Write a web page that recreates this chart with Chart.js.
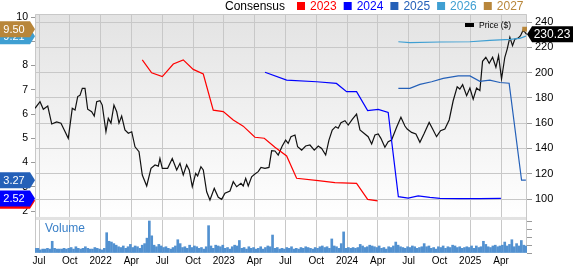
<!DOCTYPE html>
<html>
<head>
<meta charset="utf-8">
<script src="https://cdn.jsdelivr.net/npm/chart.js@4.4.1/dist/chart.umd.min.js"></script>
<style>
html, body { margin: 0; padding: 0; background: #fff; }
#wrap { width: 573px; height: 266px; }
</style>
</head>
<body>
<div id="wrap"><canvas id="chart" width="573" height="266"></canvas></div>
<script>
// x values are months counted from Jan 2021 (Jul 2021 = 6)
const quarterTicks  = [6, 9, 12, 15, 18, 21, 24, 27, 30, 33, 36, 39, 42, 45, 48, 51];
const quarterLabels = ['Jul','Oct','2022','Apr','Jul','Oct','2023','Apr','Jul','Oct','2024','Apr','Jul','Oct','2025','Apr'];

const epsTicks    = [2, 3, 4, 5, 6, 7, 8, 9, 10];
const priceTicks  = [100, 120, 140, 160, 180, 200, 220, 240];
const volumeTicks = [0, 10, 20, 30, 40];

const priceMonths = [5.61,6.10,6.42,6.85,7.24,7.72,8.14,8.46,8.85,9.24,9.51,9.77,9.99,10.22,10.48,10.74,11.13,11.38,11.62,11.94,
  12.16,12.52,12.75,13.01,13.30,13.57,13.79,14.05,14.37,14.70,15.03,15.35,15.74,16.06,16.49,16.91,17.30,17.62,17.78,18.01,
  18.53,18.98,19.41,19.73,20.05,20.38,20.63,20.93,21.26,21.45,21.77,22.00,22.33,22.65,23.07,23.46,23.79,24.11,24.60,24.92,
  25.25,25.67,25.89,26.13,26.38,26.71,27.03,27.35,27.62,28.01,28.40,28.66,28.98,29.30,29.69,30.02,30.27,30.54,30.93,31.19,
  31.58,31.97,32.39,32.81,33.20,33.53,33.92,34.24,34.56,34.89,35.14,35.41,35.80,36.12,36.51,36.93,37.26,37.74,38.06,38.40,
  38.72,39.04,39.30,39.69,40.01,40.34,40.83,41.25,41.64,41.86,42.29,42.71,43.10,43.49,44.00,44.34,44.72,45.11,45.53,45.95,
  46.34,46.73,46.99,47.26,47.65,47.97,48.29,48.62,48.94,49.20,49.52,49.85,50.18,50.50,50.76,51.05,51.37,51.60,51.86,52.12,
  52.35,52.67,52.90,53.16,53.49];
const priceValues = [171.7,177,171,173.5,159.3,161,160,154.6,148,171.7,170.4,181,182,187.5,187.5,171,169,165.6,177,177.7,
  174.3,153.2,163.8,160,174.3,169,160,165.6,154.6,152,153.2,141.3,137.4,119,110.3,124.3,126.9,126,132,124.3,
  124.3,132,122.9,128.2,119,127,123,109.7,120.3,118.2,125.5,123,105.7,99.2,108.4,101.3,99.7,104.5,106.3,113.7,
  109.7,112.4,110.3,116.3,110.3,117.6,119.7,121.6,125,124.3,125,138.2,138,134.8,141.9,146.6,144,149.3,150.6,141.3,
  138.7,141.9,142.7,138.7,141.9,140,134.8,146.6,154.6,157.2,156,160.4,161.9,158.5,163,167.2,154.6,151.4,149.3,143.5,
  150.6,151.4,148,140.9,145.3,146.6,156.7,164.6,157.7,155.3,152.7,151.4,144.8,151.4,160.6,155.3,149.3,154,155.3,162.5,
  177.7,188.8,187,190.4,181.7,187.8,179,187.8,185.7,208.9,212.1,207.3,212.1,204.2,213.3,195,212.1,218.6,227.9,221.3,
  226.5,227.3,229.2,233.7,230.23];

const eps2023Months = [16.06,16.97,18.01,19.08,20.05,21.02,22.00,22.97,23.95,24.92,25.89,27.03,27.94,28.98,30.12,31.09,33.20,34.82,36.93,38.01,38.98];
const eps2023Values = [8.23,7.70,7.54,8.06,8.23,7.84,7.65,6.16,6.10,5.75,5.50,5.04,5.00,4.63,4.27,3.35,3.25,3.17,3.14,2.48,2.42];

const eps2024Months = [28.01,30.12,33.04,34.97,35.96,36.93,38.01,39.04,40.01,41.00,41.96,42.93,44.07,45.05,46.99,48.94,50.99];
const eps2024Values = [7.72,7.40,7.33,7.26,6.92,6.92,6.14,6.19,6.06,2.59,2.53,2.62,2.56,2.52,2.51,2.51,2.52];

const eps2025Months = [41.00,42.12,43.10,44.24,45.37,46.83,47.97,48.94,49.91,50.89,51.79,53.00,53.42];
const eps2025Values = [7.06,7.06,7.22,7.33,7.47,7.57,7.57,7.35,7.40,7.30,7.27,3.27,3.27];

const eps2026Months = [41.00,42.12,45.05,47.97,49.91,51.86,52.83,53.42];
const eps2026Values = [8.98,8.94,8.97,8.98,9.04,9.08,9.12,9.21];

const eps2027Months = [53.30];
const eps2027Values = [9.50];

// weekly volume in thousands, first week starts mid-June 2021
const volumeStart = 5.67;
const volumeK = [
  6,6,4,5,5,6,5,15,6,5,5,5,6,
  5,6,7,5,8,6,5,6,8,6,5,5,7,
  6,5,4,6,26,15,14,12,10,8,7,9,6,
  8,11,7,9,8,6,10,12,19,41,22,10,8,
  11,9,7,8,6,5,7,9,17,12,7,8,6,
  10,7,9,8,6,7,5,8,35,9,6,10,9,
  8,10,6,7,5,8,10,9,16,6,7,5,8,
  6,7,5,6,8,5,7,9,8,23,6,7,5,
  6,5,7,6,8,5,6,5,7,6,8,7,6,
  5,7,6,8,9,7,8,6,18,9,8,6,12,
  27,6,7,6,7,6,7,11,9,7,8,10,9,
  8,7,9,6,7,5,8,7,9,14,10,8,7,
  6,8,7,9,8,6,7,8,12,8,9,6,7,
  5,8,7,9,6,8,7,10,9,7,8,6,7,
  8,7,9,6,9,7,8,15,11,8,7,9,10,
  8,9,10,14,9,11,17,8,12,9,16,10,9
];

const seriesNames  = ['2023', '2024', '2025', '2026', '2027'];
const seriesColors = ['#ff0000', '#0000ff', '#2460b8', '#3f9fd2', '#b8863a'];
const volumeColor = '#5291d0';

const pts = (xs, ys) => xs.map((x, i) => ({ x: x, y: ys[i] }));
const weekStep = 12 / 52;
const volumePts = volumeK.map((v, i) => ({ x: volumeStart + i * weekStep, y: v }));

const epsSets = [
  [eps2023Months, eps2023Values],
  [eps2024Months, eps2024Values],
  [eps2025Months, eps2025Values],
  [eps2026Months, eps2026Values],
  [eps2027Months, eps2027Values]
];

Chart.defaults.font.family = "Arial, 'Liberation Sans', sans-serif";
Chart.defaults.font.size = 11;
Chart.defaults.color = '#000';

const PANEL_SPLIT = 85; // price value where the volume panel begins

// keep the plot box fixed: no extra room for half labels at the edges
function fixBox(size, horizontal) {
  return s => {
    if (horizontal) s.height = size; else s.width = size;
    s.paddingLeft = 0; s.paddingRight = 0; s.paddingTop = 0; s.paddingBottom = 0;
  };
}

const panelBg = {
  id: 'panelBg',
  beforeDraw(chart) {
    const ctx = chart.ctx, a = chart.chartArea;
    const split = chart.scales.yPrice.getPixelForValue(PANEL_SPLIT);
    ctx.save();
    ctx.fillStyle = '#fff';
    ctx.fillRect(0, 0, chart.width, chart.height);
    const g = ctx.createLinearGradient(0, a.top, 0, split);
    g.addColorStop(0, '#e3e3e3');
    g.addColorStop(1, '#ffffff');
    ctx.fillStyle = g;
    ctx.fillRect(a.left, a.top, a.right - a.left, split - a.top);
    ctx.restore();
  },
  beforeDatasetsDraw(chart) {
    const ctx = chart.ctx, a = chart.chartArea;
    const split = chart.scales.yPrice.getPixelForValue(PANEL_SPLIT);
    ctx.save();
    ctx.fillStyle = '#e2e2e2';
    ctx.fillRect(a.left, split - 1, a.right - a.left, 3);
    ctx.strokeStyle = '#c8c8c8';
    ctx.lineWidth = 1;
    ctx.beginPath();
    ctx.moveTo(a.left + 0.5, a.bottom);
    ctx.lineTo(a.left + 0.5, a.top + 0.5);
    ctx.lineTo(a.right - 0.5, a.top + 0.5);
    ctx.lineTo(a.right - 0.5, a.bottom);
    ctx.stroke();
    ctx.restore();
  },
  afterDraw(chart) {
    const ctx = chart.ctx, a = chart.chartArea;
    ctx.save();
    ctx.textBaseline = 'alphabetic';

    // top legend
    ctx.font = "12px Arial, 'Liberation Sans', sans-serif";
    ctx.fillStyle = '#000';
    ctx.textAlign = 'left';
    ctx.fillText('Consensus', 225, 10);
    let x = 297;
    seriesNames.forEach((name, i) => {
      ctx.fillStyle = seriesColors[i];
      ctx.fillRect(x, 2, 8, 8);
      ctx.fillText(name, x + 13, 10);
      x += 13 + ctx.measureText(name).width + 7;
    });

    // price legend
    ctx.fillStyle = '#000';
    ctx.fillRect(465, 23, 9, 4);
    ctx.font = "8.5px Arial, 'Liberation Sans', sans-serif";
    ctx.textBaseline = 'middle';
    ctx.fillText('Price ($)', 479, 25.5);

    // volume caption
    ctx.font = "12px Arial, 'Liberation Sans', sans-serif";
    ctx.fillStyle = '#3a80c8';
    ctx.fillText('Volume', 45, 229);

    // left end tags for each consensus series
    const yEps = chart.scales.yEps;
    ctx.font = "11px Arial, 'Liberation Sans', sans-serif";
    ctx.textAlign = 'center';
    epsSets.forEach((s, i) => {
      const v = s[1][s[1].length - 1];
      const y = yEps.getPixelForValue(v);
      const tip = a.left, h = 16, bx = tip - 5;
      ctx.fillStyle = seriesColors[i];
      ctx.beginPath();
      ctx.moveTo(0, y - h / 2);
      ctx.lineTo(bx, y - h / 2);
      ctx.lineTo(tip, y);
      ctx.lineTo(bx, y + h / 2);
      ctx.lineTo(0, y + h / 2);
      ctx.closePath();
      ctx.fill();
      ctx.fillStyle = '#fff';
      ctx.fillText(v.toFixed(2), 14, y + 0.5);
    });

    // right price tag
    const lastPrice = priceValues[priceValues.length - 1];
    const py = chart.scales.yPrice.getPixelForValue(lastPrice);
    const h = 16, tip = a.right, bx = tip + 5;
    ctx.fillStyle = '#000';
    ctx.beginPath();
    ctx.moveTo(tip, py);
    ctx.lineTo(bx, py - h / 2);
    ctx.lineTo(chart.width, py - h / 2);
    ctx.lineTo(chart.width, py + h / 2);
    ctx.lineTo(bx, py + h / 2);
    ctx.closePath();
    ctx.fill();
    ctx.fillStyle = '#fff';
    ctx.font = "12px Arial, 'Liberation Sans', sans-serif";
    ctx.fillText(lastPrice.toFixed(2), 552, py + 0.5);
    ctx.restore();
  }
};

const datasets = [];
epsSets.forEach((s, i) => {
  const single = s[0].length === 1;
  datasets.push({
    type: 'line',
    data: pts(s[0], s[1]),
    yAxisID: 'yEps',
    borderColor: seriesColors[i],
    backgroundColor: seriesColors[i],
    borderWidth: 1.2,
    showLine: !single,
    pointRadius: single ? 2.5 : 0,
    pointStyle: 'rect',
    tension: 0
  });
});
datasets.push({
  type: 'line',
  data: pts(priceMonths, priceValues),
  yAxisID: 'yPrice',
  borderColor: '#111',
  borderWidth: 1.2,
  pointRadius: 0,
  tension: 0
});
datasets.push({
  type: 'bar',
  data: volumePts,
  yAxisID: 'yVol',
  backgroundColor: volumeColor,
  barThickness: 2
});

new Chart(document.getElementById('chart'), {
  type: 'line',
  data: { datasets: datasets },
  options: {
    responsive: false,
    animation: false,
    devicePixelRatio: 1,
    layout: { padding: { top: 14, left: 0, right: 0, bottom: 0 } },
    plugins: { legend: { display: false }, tooltip: { enabled: false } },
    scales: {
      x: {
        type: 'linear',
        offset: false,
        min: 5.61,
        max: 53.53,
        afterBuildTicks: s => { s.ticks = quarterTicks.map(v => ({ value: v })); },
        afterFit: fixBox(13, true),
        grid: { color: '#c8c8c8', drawTicks: false, offset: false },
        border: { display: false },
        ticks: { padding: 2, maxRotation: 0, autoSkip: false, font: { size: 10 },
                 callback: (v, i) => quarterLabels[i] }
      },
      yEps: {
        position: 'left',
        min: 0.268,
        max: 10.124,
        afterBuildTicks: s => { s.ticks = epsTicks.map(v => ({ value: v })); },
        afterFit: fixBox(35, false),
        grid: { drawOnChartArea: false, tickLength: 4, color: '#9a9a9a' },
        border: { display: false },
        ticks: { padding: 3, font: { size: 10.5 } }
      },
      yVol: {
        position: 'right',
        weight: 0,
        min: 0,
        max: 306,
        afterBuildTicks: s => { s.ticks = volumeTicks.map(v => ({ value: v })); },
        afterFit: fixBox(0, false),
        grid: { drawOnChartArea: false, tickLength: 5, color: '#9a9a9a' },
        border: { display: false },
        ticks: { padding: 3, callback: v => v === 0 ? '0' : v + 'k' }
      },
      yPrice: {
        position: 'right',
        weight: 1,
        min: 57.29,
        max: 246.33,
        afterBuildTicks: s => { s.ticks = priceTicks.map(v => ({ value: v })); },
        afterFit: fixBox(46, false),
        grid: { color: '#c8c8c8', tickLength: 5, tickColor: '#9a9a9a' },
        border: { display: false },
        ticks: { padding: 3 }
      }
    }
  },
  plugins: [panelBg]
});
</script>
</body>
</html>
